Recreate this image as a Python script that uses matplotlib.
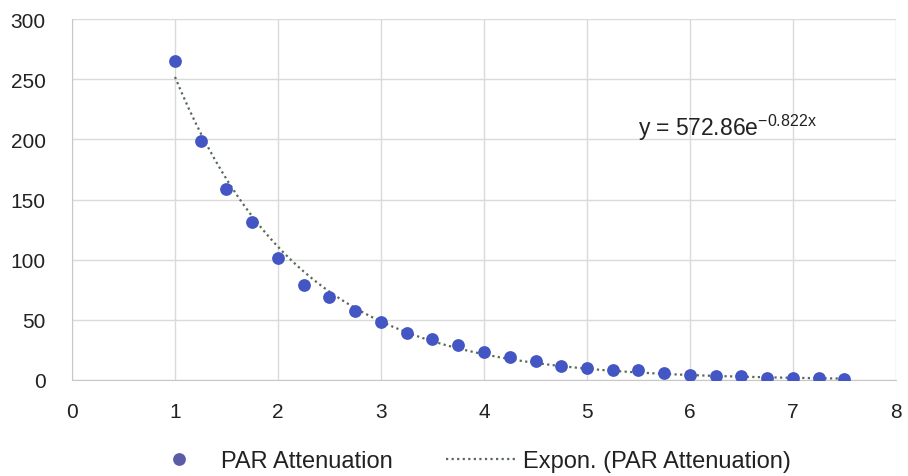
import numpy as np
import matplotlib
matplotlib.use("Agg")
import matplotlib.pyplot as plt

plt.rcParams['font.family'] = ['Liberation Sans', 'DejaVu Sans']
plt.rcParams['mathtext.fontset'] = 'custom'
plt.rcParams['mathtext.rm'] = 'Liberation Sans'
plt.rcParams['mathtext.it'] = 'Liberation Sans'

depth = [1, 1.25, 1.5, 1.75, 2, 2.25, 2.5, 2.75, 3, 3.25, 3.5, 3.75, 4, 4.25,
         4.5, 4.75, 5, 5.25, 5.5, 5.75, 6, 6.25, 6.5, 6.75, 7, 7.25, 7.5]
par = [265, 199, 159, 131, 101, 79, 69, 57, 48, 39, 34, 29, 23, 19,
       16, 12, 10, 8, 8, 6, 4, 3, 3, 2, 2, 2, 1]
fit_a = 572.86
fit_b = -0.822
x_ticks = [0, 1, 2, 3, 4, 5, 6, 7, 8]
y_ticks = [0, 50, 100, 150, 200, 250, 300]

fig = plt.figure(figsize=(9.08, 4.77), dpi=100)
ax = fig.add_axes([72/908, 96/477, 824/908, 361/477])

xs = np.linspace(min(depth), max(depth), 200)
ax.plot(xs, fit_a*np.exp(fit_b*xs), linestyle=(0, (1, 1.5)), color='#5a6a5a',
        lw=1.6, label='Expon. (PAR Attenuation)', zorder=3)
ax.plot(depth, par, 'o', color='#4356c4', markersize=9.2, markeredgewidth=0,
        label='PAR Attenuation', zorder=4)

ax.set_xlim(0, 8)
ax.set_ylim(0, 300)
ax.set_xticks(x_ticks)
ax.set_yticks(y_ticks)
ax.grid(True, color='#dadada', lw=1)
ax.set_axisbelow(True)
for s in ['top', 'right']:
    ax.spines[s].set_visible(False)
for s in ['left', 'bottom']:
    ax.spines[s].set_color('#c8c8c8')
ax.tick_params(length=0, labelsize=15, colors='#222222')
ax.tick_params(axis='x', pad=16)
ax.tick_params(axis='y', pad=19)

ax.text(5.5, 210, r'y = 572.86e$^{-0.822x}$', fontsize=16.5, color='#222222',
        va='center', ha='left')

h, l = ax.get_legend_handles_labels()
leg = fig.legend([h[1], h[0]], [l[1], l[0]], loc='center', bbox_to_anchor=(467.5/908, 15/477),
                 ncol=2, frameon=False, fontsize=17, handlelength=2.96, columnspacing=2.25,
                 handletextpad=0.3, labelcolor='#222222')
leg.legend_handles[0].set_color('#5b5ba8')

fig.savefig('out.png', dpi=100)
